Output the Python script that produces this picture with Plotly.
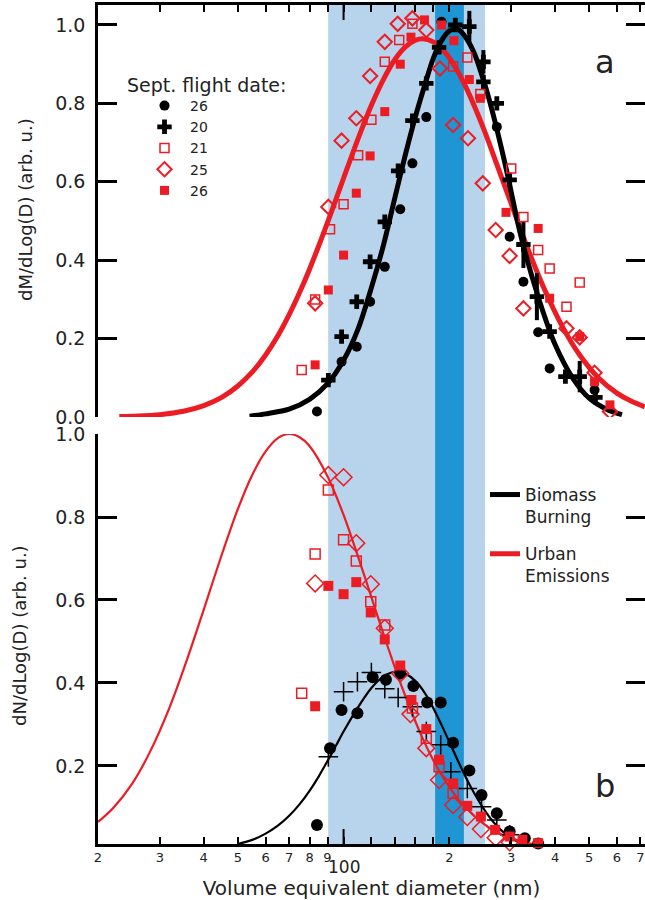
import math
import plotly.graph_objects as go

# ---------------- data ----------------
# Panel a: mass distributions dM/dLog(D)
a_bb26_d = [84, 98.7, 109, 119, 131, 145, 157, 172, 190, 273, 297, 325, 358, 386, 518]
a_bb26_v = [0.014, 0.141, 0.179, 0.294, 0.383, 0.53, 0.647, 0.765, 1.008, 0.74, 0.46, 0.345, 0.216, 0.124, 0.069]

a_bb20_d = [90.5, 98.7, 109, 119, 131, 143, 157, 172, 187, 208, 228, 250, 250, 273, 297, 325, 355, 386, 428, 470, 521]
a_bb20_v = [0.094, 0.205, 0.294, 0.396, 0.498, 0.628, 0.756, 0.851, 0.943, 1.0, 0.996, 0.906, 0.855, 0.80, 0.605, 0.44, 0.307, 0.218, 0.103, 0.103, 0.05]
a_bb20_err = [0, 0, 0, 0, 0, 0, 0, 0, 0, 0, 0.04, 0.03, 0, 0, 0, 0.06, 0.06, 0, 0, 0.04, 0]

a_ue21_d = [76, 83, 91.5, 100, 110, 120, 131, 144, 157, 205, 225, 245, 300, 325, 358, 386, 431, 470]
a_ue21_v = [0.12, 0.30, 0.479, 0.543, 0.668, 0.758, 0.906, 0.962, 1.003, 0.894, 0.917, 0.824, 0.634, 0.51, 0.426, 0.379, 0.281, 0.343]

a_ue25_d = [83, 90.5, 98.7, 108.7, 119, 131, 142.6, 157, 172, 188, 205, 226, 249, 271, 297, 325, 431, 470, 518, 573]
a_ue25_v = [0.29, 0.536, 0.705, 0.762, 0.87, 0.957, 1.003, 1.017, 0.987, 0.889, 0.745, 0.711, 0.596, 0.477, 0.411, 0.277, 0.226, 0.203, 0.113, 0.014]

a_ue26_d = [83, 90.5, 100, 108.7, 119, 131, 145, 155.5, 170, 190, 206, 228, 245, 290, 358, 386, 470, 518, 573]
a_ue26_v = [0.133, 0.324, 0.413, 0.571, 0.666, 0.779, 0.90, 0.969, 1.013, 1.0, 0.96, 0.861, 0.813, 0.522, 0.481, 0.303, 0.205, 0.09, 0.031]

a_fit_bb_d = [54, 60, 70, 80, 90, 100, 110, 120, 130, 140, 150, 160, 170, 180, 190, 200, 210, 220, 235, 250, 265, 290, 320, 360, 400, 450, 500, 560, 620]
a_fit_bb_v = [0.002, 0.008, 0.02, 0.045, 0.085, 0.145, 0.225, 0.33, 0.44, 0.56, 0.67, 0.765, 0.845, 0.915, 0.96, 0.985, 0.99, 0.975, 0.93, 0.86, 0.78, 0.635, 0.46, 0.30, 0.185, 0.098, 0.048, 0.02, 0.006]

a_fit_ue_d = [23, 26, 30, 35, 40, 45, 50, 55, 60, 65, 70, 75, 80, 90, 100, 110, 120, 130, 140, 150, 160, 168, 180, 195, 210, 225, 250, 275, 300, 330, 370, 420, 470, 530, 600, 660, 720]
a_fit_ue_v = [0.001, 0.0025, 0.006, 0.0145, 0.029, 0.05, 0.079, 0.115, 0.158, 0.207, 0.261, 0.318, 0.377, 0.496, 0.609, 0.71, 0.795, 0.862, 0.912, 0.944, 0.961, 0.965, 0.957, 0.929, 0.886, 0.834, 0.737, 0.637, 0.544, 0.443, 0.333, 0.23, 0.158, 0.101, 0.061, 0.04, 0.026]

# Panel b: number distributions dN/dLog(D)
b_bb26_d = [84, 91.5, 98.7, 109.5, 121, 132, 145, 158, 173, 189, 205, 228, 247, 273, 297, 328, 358]
b_bb26_v = [0.058, 0.243, 0.335, 0.327, 0.414, 0.408, 0.423, 0.393, 0.353, 0.353, 0.256, 0.189, 0.13, 0.086, 0.042, 0.026, 0.013]

b_bb20_d = [90.5, 100, 109.5, 120, 131, 143, 157, 172, 189, 202, 225, 247, 273, 297]
b_bb20_v = [0.222, 0.379, 0.403, 0.425, 0.386, 0.365, 0.343, 0.283, 0.251, 0.186, 0.146, 0.102, 0.07, 0.034]

b_ue21_d = [76, 83, 90.5, 100, 108.7, 119.5, 131, 157, 172, 187, 205]
b_ue21_v = [0.375, 0.711, 0.865, 0.745, 0.694, 0.596, 0.54, 0.34, 0.267, 0.198, 0.134]

b_ue25_d = [83, 90.5, 100, 108.7, 119.5, 131, 145, 155, 172, 187, 205, 225, 246, 271, 297]
b_ue25_v = [0.64, 0.901, 0.896, 0.737, 0.638, 0.532, 0.423, 0.325, 0.243, 0.166, 0.106, 0.077, 0.048, 0.027, 0.016]

b_ue26_d = [83, 90.5, 100, 108.7, 119.5, 131, 145, 156, 172, 187, 205, 225, 246, 270, 297, 323, 358]
b_ue26_v = [0.344, 0.634, 0.614, 0.643, 0.57, 0.505, 0.442, 0.359, 0.289, 0.215, 0.158, 0.104, 0.078, 0.046, 0.03, 0.022, 0.014]

b_fit_bb_d = [50, 55, 60, 65, 70, 75, 80, 85, 90, 95, 100, 110, 120, 130, 140, 150, 160, 170, 180, 190, 200, 215, 230, 250, 270, 290, 320]
b_fit_bb_v = [0.012, 0.022, 0.037, 0.056, 0.08, 0.108, 0.14, 0.175, 0.212, 0.248, 0.283, 0.342, 0.388, 0.416, 0.427, 0.422, 0.405, 0.377, 0.34, 0.299, 0.258, 0.2, 0.15, 0.098, 0.06, 0.035, 0.013]

b_fit_ue_d = [20, 22, 25, 28, 32, 36, 40, 45, 50, 55, 60, 65, 70, 75, 80, 90, 100, 110, 120, 130, 140, 150, 165, 180, 200, 220, 250, 280, 310, 340, 370]
b_fit_ue_v = [0.065, 0.097, 0.157, 0.231, 0.342, 0.461, 0.577, 0.709, 0.819, 0.902, 0.958, 0.99, 1.0, 0.992, 0.971, 0.898, 0.805, 0.704, 0.607, 0.517, 0.437, 0.368, 0.281, 0.214, 0.149, 0.104, 0.061, 0.036, 0.022, 0.013, 0.008]

# shaded size ranges (nm)
light_band = [90.4, 252.7]
dark_band = [182.2, 220.0]

# axis ticks
x_tick_vals = [20, 30, 40, 50, 60, 70, 80, 90, 100, 120, 140, 160, 180, 200, 300, 400, 500, 600, 700]
x_tick_text = ["2", "3", "4", "5", "6", "7", "8", "9", "", "", "", "", "", "2", "3", "4", "5", "6", "7"]
ya_tick_vals = [0.0, 0.2, 0.4, 0.6, 0.8, 1.0]
yb_tick_vals = [0.2, 0.4, 0.6, 0.8, 1.0]

# ---------------- style ----------------
RED = "#ec1c24"
BLACK = "#000000"
LIGHT_BLUE = "#b7d4ec"
DARK_BLUE = "#1f96d3"
FONT = "DejaVu Sans"
TXT = "#222222"

W, H = 645, 900
ML, MR, MT, MB = 98, 0, 5, 56
ph = H - MT - MB
pw = W - ML - MR
top_dom = [(844 - 417) / ph, 1.0]
bot_dom = [0.0, (844 - 434) / ph]


def py(pix):
    """paper y fraction for a pixel row of the page"""
    return (844 - pix) / ph


def px(pix):
    return (pix - ML) / pw


fig = go.Figure()

# ---- panel a (x2/y2) ----
fig.add_trace(go.Scatter(x=a_fit_ue_d, y=a_fit_ue_v, mode="lines", xaxis="x2", yaxis="y2",
                         line=dict(color=RED, width=5, shape="spline", smoothing=0.8),
                         name="Urban<br>Emissions", legend="legend2", legendgroup="ue", legendrank=2))
fig.add_trace(go.Scatter(x=a_fit_bb_d, y=a_fit_bb_v, mode="lines", xaxis="x2", yaxis="y2",
                         line=dict(color=BLACK, width=5, shape="spline", smoothing=0.8),
                         name="Biomass<br>Burning", legend="legend2", legendgroup="bb", legendrank=1))

fig.add_trace(go.Scatter(x=a_bb26_d, y=a_bb26_v, mode="markers", xaxis="x2", yaxis="y2", name="26",
                         marker=dict(symbol="circle", size=10, color=BLACK)))
fig.add_trace(go.Scatter(x=a_bb20_d, y=a_bb20_v, mode="markers", xaxis="x2", yaxis="y2", name="20",
                         marker=dict(symbol="cross", size=12, color=BLACK),
                         error_y=dict(type="data", array=a_bb20_err, color=BLACK, thickness=4, width=0)))
fig.add_trace(go.Scatter(x=a_ue21_d, y=a_ue21_v, mode="markers", xaxis="x2", yaxis="y2", name="21",
                         marker=dict(symbol="square-open", size=9, color=RED, line=dict(width=1.5))))
fig.add_trace(go.Scatter(x=a_ue25_d, y=a_ue25_v, mode="markers", xaxis="x2", yaxis="y2", name="25",
                         marker=dict(symbol="diamond-open", size=11, color=RED, line=dict(width=2))))
fig.add_trace(go.Scatter(x=a_ue26_d, y=a_ue26_v, mode="markers", xaxis="x2", yaxis="y2", name="26",
                         marker=dict(symbol="square", size=9, color=RED)))

# ---- panel b (x/y) ----
fig.add_trace(go.Scatter(x=b_fit_bb_d, y=b_fit_bb_v, mode="lines", showlegend=False,
                         line=dict(color=BLACK, width=2.2, shape="spline", smoothing=0.8)))
fig.add_trace(go.Scatter(x=b_fit_ue_d, y=b_fit_ue_v, mode="lines", showlegend=False,
                         line=dict(color=RED, width=2.2, shape="spline", smoothing=0.8)))
fig.add_trace(go.Scatter(x=b_bb26_d, y=b_bb26_v, mode="markers", showlegend=False, cliponaxis=False,
                         marker=dict(symbol="circle", size=12, color=BLACK)))
fig.add_trace(go.Scatter(x=b_bb20_d, y=b_bb20_v, mode="markers", showlegend=False, cliponaxis=False,
                         marker=dict(symbol="cross-thin", size=14, color=BLACK, line=dict(width=1.5, color=BLACK))))
fig.add_trace(go.Scatter(x=b_ue21_d, y=b_ue21_v, mode="markers", showlegend=False, cliponaxis=False,
                         marker=dict(symbol="square-open", size=10, color=RED, line=dict(width=1.5))))
fig.add_trace(go.Scatter(x=b_ue25_d, y=b_ue25_v, mode="markers", showlegend=False, cliponaxis=False,
                         marker=dict(symbol="diamond-open", size=13, color=RED, line=dict(width=1.5))))
fig.add_trace(go.Scatter(x=b_ue26_d, y=b_ue26_v, mode="markers", showlegend=False, cliponaxis=False,
                         marker=dict(symbol="square", size=10, color=RED)))

# ---- shaded size ranges ----
shapes = [
    dict(type="rect", xref="x", yref="paper", x0=light_band[0], x1=light_band[1], y0=0, y1=1,
         fillcolor=LIGHT_BLUE, line=dict(width=0), layer="below"),
    dict(type="rect", xref="x", yref="paper", x0=dark_band[0], x1=dark_band[1], y0=0, y1=1,
         fillcolor=DARK_BLUE, line=dict(width=0), layer="below"),
    # longer tick marks at 100 nm
    dict(type="line", xref="x", yref="y domain", x0=100, x1=100, y0=0, y1=15 / 410,
         line=dict(color=BLACK, width=2)),
    dict(type="line", xref="x2", yref="y2 domain", x0=100, x1=100, y0=1, y1=1 - 15 / 412,
         line=dict(color=BLACK, width=2)),
]

xr = [math.log10(20), math.log10(721)]
common_x = dict(type="log", range=xr, tickvals=x_tick_vals, ticktext=x_tick_text,
                ticks="inside", ticklen=7, tickwidth=2, tickcolor=BLACK,
                showline=True, linecolor=BLACK, linewidth=2.5, showgrid=False, zeroline=False)
common_y = dict(ticks="inside", ticklen=19, tickwidth=2.5, tickcolor=BLACK, showline=True,
                linecolor=BLACK, linewidth=2.5, mirror="ticks", showgrid=False, zeroline=False,
                tickformat=".1f", tickfont=dict(family=FONT, size=19, color=TXT), ticklabelstandoff=6)

fig.update_layout(
    width=W, height=H,
    margin=dict(l=ML, r=MR, t=MT, b=MB, autoexpand=False),
    paper_bgcolor="white", plot_bgcolor="rgba(0,0,0,0)",
    font=dict(family=FONT, color=TXT),
    xaxis=dict(**common_x, anchor="y", domain=[0, 1], ticklabeloverflow="allow",
               tickfont=dict(family=FONT, size=13, color=TXT),
               title=dict(text="Volume equivalent diameter (nm)", font=dict(family=FONT, size=20, color=TXT),
                          standoff=25)),
    xaxis2=dict(**common_x, anchor="y2", matches="x", side="top", showticklabels=False, domain=[0, 1]),
    yaxis=dict(**common_y, domain=bot_dom, range=[0.012, 1.0], tickvals=yb_tick_vals, anchor="x"),
    yaxis2=dict(**common_y, domain=top_dom, range=[0, 1.051], tickvals=ya_tick_vals, anchor="x2"),
    shapes=shapes,
    legend=dict(x=px(139), y=py(90), xanchor="left", yanchor="top",
                bgcolor="rgba(0,0,0,0)", borderwidth=0, itemwidth=41,
                font=dict(family=FONT, size=14, color=TXT), tracegroupgap=0),
    legend2=dict(x=px(485), y=py(477), xanchor="left", yanchor="top",
                 bgcolor="rgba(0,0,0,0)", borderwidth=0, itemwidth=30, valign="top",
                 font=dict(family=FONT, size=17, color=TXT), tracegroupgap=12,
                 traceorder="grouped"),
    annotations=[
        dict(text="Sept. flight date:", xref="paper", yref="paper", x=px(125), y=py(85),
             xanchor="left", yanchor="middle", showarrow=False, font=dict(family=FONT, size=19, color=TXT)),
        dict(text="dM/dLog(D) (arb. u.)", xref="paper", yref="paper", x=px(25), y=py(210),
             xanchor="center", yanchor="middle", textangle=-90, showarrow=False,
             font=dict(family=FONT, size=18, color=TXT)),
        dict(text="dN/dLog(D) (arb. u.)", xref="paper", yref="paper", x=px(19), y=py(636),
             xanchor="center", yanchor="middle", textangle=-90, showarrow=False,
             font=dict(family=FONT, size=18, color=TXT)),
        dict(text="a", xref="paper", yref="paper", x=px(605), y=py(62), xanchor="center", yanchor="middle",
             showarrow=False, font=dict(family=FONT, size=32, color=TXT)),
        dict(text="b", xref="paper", yref="paper", x=px(605), y=py(786), xanchor="center", yanchor="middle",
             showarrow=False, font=dict(family=FONT, size=32, color=TXT)),
        dict(text="100", xref="x", yref="paper", x=2, y=py(867), xanchor="center", yanchor="middle",
             showarrow=False, font=dict(family=FONT, size=17, color=TXT)),
    ],
)

fig.write_html("out.html",
               config={"displayModeBar": False},
               post_script=("document.documentElement.style.overflow='hidden';"
                            "document.body.style.overflow='hidden';document.body.style.margin='0';"))
